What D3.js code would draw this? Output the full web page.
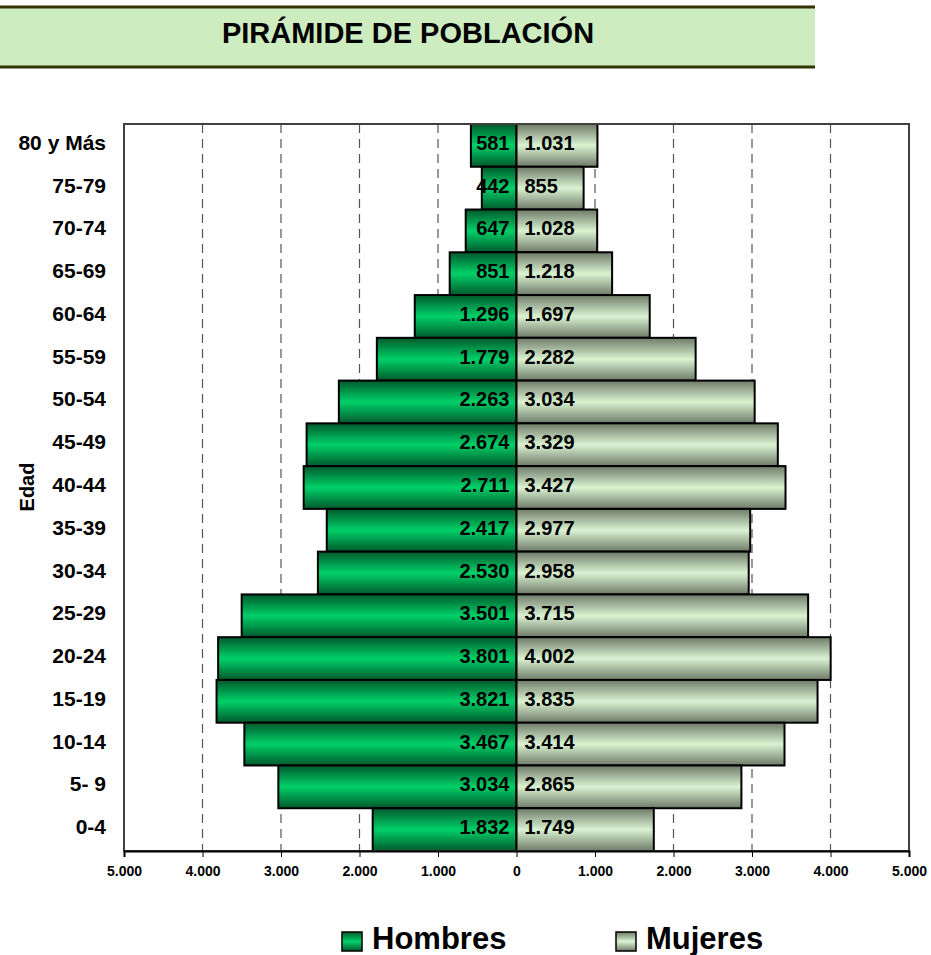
<!DOCTYPE html>
<html>
<head>
<meta charset="utf-8">
<script src="https://cdn.jsdelivr.net/npm/d3@7"></script>
<style>
  body { margin: 0; background: #fff; }
  svg text { font-family: Arial, "Liberation Sans", sans-serif; font-weight: bold; fill: #000; }
</style>
</head>
<body>
<svg id="chart" width="931" height="955"></svg>
<script>
let ages = ["80 y Más", "75-79", "70-74", "65-69", "60-64", "55-59", "50-54", "45-49",
            "40-44", "35-39", "30-34", "25-29", "20-24", "15-19", "10-14", "5- 9", "0-4"]
let hombres = [581, 442, 647, 851, 1296, 1779, 2263, 2674, 2711, 2417, 2530, 3501, 3801, 3821, 3467, 3034, 1832]
let mujeres = [1031, 855, 1028, 1218, 1697, 2282, 3034, 3329, 3427, 2977, 2958, 3715, 4002, 3835, 3414, 2865, 1749]
let ticks = [-5000, -4000, -3000, -2000, -1000, 0, 1000, 2000, 3000, 4000, 5000]

let plotLeft = 124, plotRight = 909, plotTop = 124, plotBottom = 851

let fmt = v => d3.format(",")(Math.abs(v)).replace(/,/g, ".")

let svg = d3.select("#chart")
let defs = svg.append("defs")

function grad(id, edge, mid) {
  let g = defs.append("linearGradient")
    .attr("id", id).attr("x1", 0).attr("y1", 0).attr("x2", 0).attr("y2", 1)
  g.append("stop").attr("offset", "0%").attr("stop-color", edge)
  g.append("stop").attr("offset", "50%").attr("stop-color", mid)
  g.append("stop").attr("offset", "100%").attr("stop-color", edge)
}
grad("gH", "#00592c", "#00d068")
grad("gM", "#6e7a68", "#daf2d2")

// title band
svg.append("rect")
  .attr("x", 0).attr("y", 7).attr("width", 815).attr("height", 60)
  .attr("fill", "#cdedc0")
svg.append("line").attr("x1", 0).attr("x2", 815).attr("y1", 7).attr("y2", 7)
  .attr("stroke", "#333300").attr("stroke-width", 3)
svg.append("line").attr("x1", 0).attr("x2", 815).attr("y1", 67).attr("y2", 67)
  .attr("stroke", "#333300").attr("stroke-width", 3)
svg.append("text")
  .attr("x", 408).attr("y", 43)
  .attr("text-anchor", "middle")
  .style("font-size", "29px")
  .text("PIRÁMIDE DE POBLACIÓN")

let x = d3.scaleLinear().domain([-5000, 5000]).range([plotLeft, plotRight])
let y = d3.scaleBand().domain(ages).range([plotTop, plotBottom]).padding(0)

// dashed grid
svg.append("g").selectAll("line")
  .data(ticks.filter(t => t != 0 && Math.abs(t) != 5000)).enter()
  .append("line")
  .attr("x1", d => x(d)).attr("x2", d => x(d))
  .attr("y1", plotTop).attr("y2", plotBottom)
  .attr("stroke", "#555").attr("stroke-width", 1.2)
  .attr("stroke-dasharray", "9,6")

// bars
let rows = ages.map((a, i) => ({ age: a, h: hombres[i], m: mujeres[i] }))

svg.append("g").selectAll("rect")
  .data(rows).enter()
  .append("rect")
  .attr("x", d => x(-d.h))
  .attr("y", d => y(d.age))
  .attr("width", d => x(0) - x(-d.h))
  .attr("height", y.bandwidth())
  .attr("fill", "url(#gH)")
  .attr("stroke", "#000").attr("stroke-width", 2)

svg.append("g").selectAll("rect")
  .data(rows).enter()
  .append("rect")
  .attr("x", x(0))
  .attr("y", d => y(d.age))
  .attr("width", d => x(d.m) - x(0))
  .attr("height", y.bandwidth())
  .attr("fill", "url(#gM)")
  .attr("stroke", "#000").attr("stroke-width", 2)

// value labels
svg.append("g").selectAll("text")
  .data(rows).enter()
  .append("text")
  .attr("x", x(0) - 7)
  .attr("y", d => y(d.age) + y.bandwidth() / 2 + 4.5)
  .attr("text-anchor", "end")
  .style("font-size", "20px")
  .text(d => fmt(d.h))

svg.append("g").selectAll("text")
  .data(rows).enter()
  .append("text")
  .attr("x", x(0) + 8)
  .attr("y", d => y(d.age) + y.bandwidth() / 2 + 4.5)
  .style("font-size", "20px")
  .text(d => fmt(d.m))

// frame
svg.append("rect")
  .attr("x", plotLeft).attr("y", plotTop)
  .attr("width", plotRight - plotLeft).attr("height", plotBottom - plotTop)
  .attr("fill", "none").attr("stroke", "#404040").attr("stroke-width", 2)

// x axis
let xAxis = svg.append("g")
  .attr("transform", `translate(0,${plotBottom})`)
  .call(d3.axisBottom(x).tickValues(ticks).tickFormat(fmt).tickSize(6).tickPadding(9))
xAxis.select(".domain").attr("stroke", "#000").attr("stroke-width", 2)
xAxis.selectAll(".tick line").attr("stroke", "#000")
xAxis.selectAll("text").style("font-size", "14px")
  .style("font-family", "Arial, 'Liberation Sans', sans-serif").style("font-weight", "bold")

// y labels
svg.append("g").selectAll("text")
  .data(ages).enter()
  .append("text")
  .attr("x", 106)
  .attr("y", d => y(d) + y.bandwidth() / 2 + 4.5)
  .attr("text-anchor", "end")
  .style("font-size", "21px")
  .text(d => d)

svg.append("text")
  .attr("transform", "translate(34,487) rotate(-90)")
  .attr("text-anchor", "middle")
  .style("font-size", "20px")
  .text("Edad")

// legend
let legend = [{ name: "Hombres", fill: "url(#gH)", x: 342 }, { name: "Mujeres", fill: "url(#gM)", x: 616 }]
let lg = svg.append("g").selectAll("g")
  .data(legend).enter()
  .append("g")
lg.append("rect")
  .attr("x", d => d.x).attr("y", 932)
  .attr("width", 20).attr("height", 19)
  .attr("fill", d => d.fill)
  .attr("stroke", "#000").attr("stroke-width", 1.5)
lg.append("text")
  .attr("x", d => d.x + 30).attr("y", 949)
  .style("font-size", "31px")
  .text(d => d.name)
</script>
</body>
</html>
